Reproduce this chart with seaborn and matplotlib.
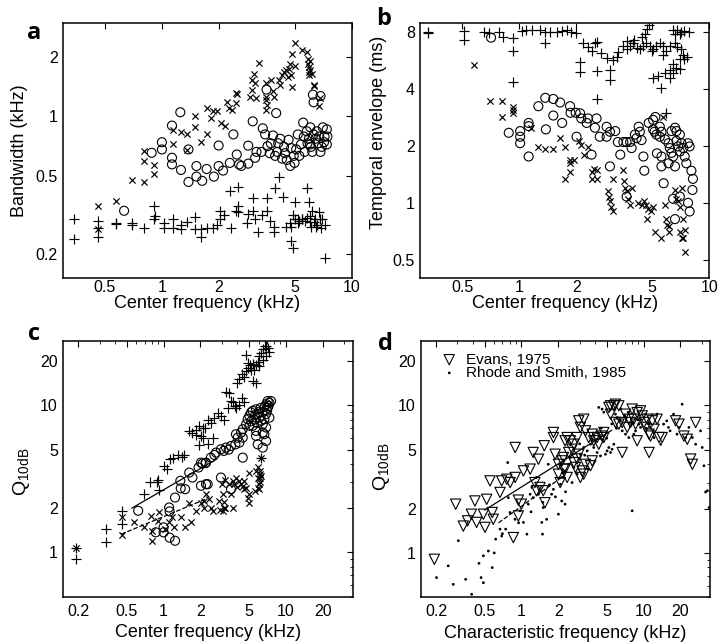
import numpy as np
import seaborn as sns
import matplotlib
matplotlib.use('Agg')
import matplotlib.pyplot as plt
from matplotlib.ticker import FixedLocator, FixedFormatter, LogLocator, NullLocator, NullFormatter

# ---- panel a: bandwidth vs center frequency (kHz, kHz) ----
a_plus = [(0.345, 0.30), (0.345, 0.238), (0.458, 0.295), (0.458, 0.27), (0.458, 0.243), (0.575, 0.287),
          (0.575, 0.282), (0.695, 0.287), (0.695, 0.281), (0.807, 0.272), (0.911, 0.35), (0.911, 0.30),
          (0.92, 0.31), (1.03, 0.287), (1.03, 0.272), (1.14, 0.301), (1.14, 0.272), (1.26, 0.28), (1.26, 0.266),
          (1.35, 0.29), (1.50, 0.307), (1.50, 0.266), (1.60, 0.266), (1.60, 0.243), (1.72, 0.272), (1.87, 0.272),
          (1.95, 0.28), (2.03, 0.33), (2.03, 0.30), (2.13, 0.315), (2.31, 0.272), (2.29, 0.418), (2.45, 0.33),
          (2.53, 0.435), (2.53, 0.35), (2.53, 0.325), (2.80, 0.287), (2.85, 0.32), (3.01, 0.383), (3.01, 0.33),
          (3.1, 0.30), (3.22, 0.258), (3.35, 0.315), (3.57, 0.383), (3.57, 0.33), (3.7, 0.295), (3.90, 0.258),
          (3.90, 0.275), (3.95, 0.433), (4.13, 0.49), (4.36, 0.39), (4.5, 0.275), (4.73, 0.287), (4.8, 0.275),
          (4.8, 0.232), (4.9, 0.215), (4.9, 0.315), (5.0, 0.30), (5.03, 0.365), (5.2, 0.30), (5.2, 0.287),
          (5.3, 0.295), (5.46, 0.30), (5.5, 0.30), (5.7, 0.295), (5.8, 0.305), (5.81, 0.43), (5.95, 0.365),
          (6.0, 0.29), (6.0, 0.31), (6.1, 0.275), (6.2, 0.33), (6.3, 0.29), (6.41, 0.30), (6.5, 0.275),
          (6.6, 0.28), (6.7, 0.325), (6.81, 0.30), (6.9, 0.27), (7.0, 0.30), (7.2, 0.28), (7.24, 0.19)]
a_cross = [(0.458, 0.351), (0.458, 0.266), (0.575, 0.371), (0.695, 0.475), (0.807, 0.593), (0.807, 0.666),
           (0.807, 0.461), (0.911, 0.566), (0.911, 0.508), (1.14, 0.728), (1.14, 0.85), (1.26, 0.83), (1.35, 0.81),
           (1.35, 0.673), (1.5, 1.0), (1.5, 0.88), (1.6, 0.74), (1.72, 0.81), (1.72, 1.11), (1.82, 0.98),
           (1.87, 1.07), (1.95, 1.06), (2.05, 0.93), (2.15, 0.89), (2.2, 1.18), (2.27, 1.11), (2.35, 1.08),
           (2.45, 1.32), (2.45, 1.17), (2.5, 1.30), (2.9, 1.25), (3.0, 1.53), (3.0, 1.36), (3.05, 1.64),
           (3.1, 1.48), (3.15, 1.24), (3.25, 1.86), (3.55, 1.48), (3.55, 1.25), (3.55, 1.21), (3.55, 1.08),
           (3.6, 1.15), (3.75, 1.53), (3.85, 1.35), (3.9, 1.25), (4.15, 1.53), (4.2, 1.45), (4.3, 1.62),
           (4.4, 1.68), (4.5, 1.72), (4.6, 1.58), (4.7, 1.75), (4.75, 1.85), (4.8, 1.62), (4.85, 1.42),
           (4.85, 2.07), (5.0, 1.80), (5.05, 2.36), (5.45, 2.17), (5.8, 2.14), (5.9, 1.95), (5.9, 1.85),
           (5.95, 1.78), (5.95, 1.68), (5.95, 1.62), (6.0, 1.92), (6.05, 1.72), (6.2, 1.65), (6.3, 1.43),
           (6.35, 1.45), (6.7, 1.13), (6.85, 1.24)]
a_circle = [(0.632, 0.331), (0.883, 0.653), (1.0, 0.739), (1.0, 0.679), (1.13, 0.898), (1.13, 0.616),
            (1.13, 0.570), (1.25, 1.05), (1.26, 0.534), (1.38, 0.679), (1.38, 0.464), (1.52, 0.559),
            (1.52, 0.494), (1.63, 0.47), (1.72, 0.54), (1.88, 0.494), (1.99, 0.711), (1.99, 0.559), (2.1, 0.53),
            (2.28, 0.58), (2.38, 0.81), (2.48, 0.64), (2.55, 0.57), (2.62, 0.56), (2.85, 0.71), (2.85, 0.575),
            (3.01, 0.944), (3.1, 0.616), (3.15, 0.66), (3.35, 0.66), (3.4, 0.87), (3.56, 1.37), (3.5, 0.81),
            (3.6, 0.705), (3.7, 0.65), (3.75, 0.73), (3.85, 0.80), (3.95, 0.63), (4.0, 1.04), (4.05, 0.66),
            (4.1, 0.73), (4.2, 0.77), (4.3, 0.61), (4.4, 0.70), (4.45, 0.65), (4.55, 0.60), (4.65, 0.76),
            (4.75, 0.56), (4.8, 0.69), (4.95, 0.63), (5.0, 0.58), (5.1, 0.68), (5.2, 0.81), (5.3, 0.63),
            (5.4, 0.72), (5.55, 0.93), (5.6, 0.79), (5.65, 0.66), (5.8, 0.84), (5.85, 0.73), (5.95, 0.77),
            (6.05, 0.88), (6.05, 0.72), (6.1, 0.70), (6.2, 0.66), (6.25, 1.29), (6.3, 0.81), (6.3, 1.18),
            (6.45, 0.77), (6.55, 0.84), (6.65, 0.73), (6.75, 0.79), (6.85, 1.27), (6.85, 0.66), (6.95, 0.70),
            (7.05, 0.88), (7.15, 0.74), (7.2, 0.79), (7.4, 0.86), (7.4, 0.72), (7.45, 0.79)]

# ---- panel b: temporal envelope (ms) vs center frequency ----
b_plus = [(0.33, 8.0), (0.33, 7.9), (0.51, 8.15), (0.51, 7.3), (0.65, 8.05), (0.69, 7.9), (0.78, 8.0),
          (0.82, 7.6), (0.93, 7.5), (0.93, 6.4), (0.93, 4.35), (1.03, 8.1), (1.09, 8.2), (1.16, 8.25),
          (1.29, 8.2), (1.36, 8.0), (1.36, 7.0), (1.45, 8.0), (1.57, 8.0), (1.68, 8.1), (1.78, 8.2), (1.88, 8.0),
          (2.0, 7.9), (2.09, 5.55), (2.09, 4.92), (2.17, 7.0), (2.3, 6.7), (2.4, 6.4), (2.5, 7.0), (2.55, 7.1),
          (2.55, 5.0), (2.55, 3.55), (2.7, 6.2), (2.88, 5.85), (3.12, 5.7), (3.25, 5.9), (3.3, 6.3), (3.0, 5.05),
          (3.0, 4.45), (3.53, 6.8), (3.67, 6.5), (3.83, 6.8), (3.98, 7.0), (4.14, 6.65), (4.31, 6.5),
          (4.49, 6.8), (4.67, 7.0), (4.86, 6.8), (5.06, 6.5), (5.27, 6.8), (5.49, 7.0), (5.72, 6.8),
          (5.95, 6.35), (6.2, 6.8), (4.4, 7.55), (4.6, 7.8), (4.7, 8.3), (4.8, 8.7), (5.0, 6.4), (5.06, 4.6),
          (5.4, 4.7), (5.72, 6.1), (5.85, 4.9), (6.2, 5.05), (6.45, 5.45), (6.7, 5.2), (7.0, 5.75), (5.6, 4.05),
          (5.9, 3.0), (6.45, 8.2), (6.6, 7.8), (6.8, 8.2), (7.1, 8.0), (6.6, 7.0), (6.8, 6.7), (7.1, 6.5),
          (7.3, 6.1), (7.4, 5.75), (7.6, 5.9), (6.2, 4.6), (6.45, 4.9), (7.0, 5.1), (7.4, 8.1), (7.8, 8.0),
          (7.0, 7.8), (3.7, 7.2), (4.0, 7.3)]
b_circle = [(0.71, 7.5), (0.88, 2.35), (1.01, 2.4), (1.01, 2.24), (1.01, 2.07), (1.12, 2.65), (1.12, 2.55),
            (1.12, 1.76), (1.26, 3.25), (1.37, 3.6), (1.38, 2.45), (1.51, 3.55), (1.51, 2.9), (1.64, 3.4),
            (1.68, 2.65), (1.85, 3.25), (1.86, 3.0), (1.98, 3.0), (2.0, 2.24), (2.09, 2.98), (2.12, 2.8),
            (2.26, 2.65), (2.3, 2.8), (2.4, 1.8), (2.5, 2.5), (2.55, 2.8), (2.65, 2.24), (2.88, 2.53),
            (2.88, 2.24), (3.0, 2.38), (3.0, 1.56), (3.2, 2.4), (3.3, 2.1), (3.4, 1.8), (3.53, 2.1), (3.67, 2.1),
            (3.83, 2.1), (3.67, 1.08), (3.9, 1.95), (4.06, 2.3), (4.14, 2.2), (4.31, 2.38), (4.4, 2.15),
            (4.25, 2.53), (4.5, 1.76), (4.55, 1.48), (4.8, 2.65), (5.06, 2.75), (5.06, 2.45), (5.15, 2.38),
            (5.2, 2.85), (5.27, 2.3), (5.49, 2.24), (5.6, 2.38), (5.49, 2.53), (5.3, 1.83), (5.6, 1.76),
            (5.75, 1.27), (5.85, 2.17), (6.1, 2.07), (6.2, 1.95), (6.33, 1.84), (6.45, 1.76), (6.6, 1.56),
            (6.72, 2.13), (6.85, 1.99), (7.0, 1.87), (7.13, 2.07), (7.3, 1.95), (7.42, 1.76), (7.57, 1.62),
            (7.73, 2.07), (7.88, 1.99), (8.05, 1.48), (8.2, 1.34), (8.15, 1.17), (7.73, 1.0), (7.88, 0.9),
            (7.0, 1.08), (6.6, 0.82), (6.45, 1.05), (5.6, 1.56), (6.1, 1.62), (6.33, 2.4), (6.6, 2.5),
            (6.72, 2.4), (7.0, 2.3)]
b_cross = [(0.58, 5.4), (0.70, 3.45), (0.81, 3.45), (0.81, 2.85), (0.93, 3.2), (0.93, 3.1), (0.93, 3.0),
           (1.15, 2.5), (1.26, 1.98), (1.37, 1.92), (1.5, 1.92), (1.63, 2.2), (1.73, 1.34), (1.75, 1.98),
           (1.85, 1.68), (1.84, 1.62), (1.84, 1.46), (1.93, 1.68), (2.05, 2.12), (2.12, 2.02), (2.2, 1.8),
           (2.3, 1.98), (2.4, 1.46), (2.42, 1.34), (2.48, 1.52), (2.55, 1.5), (2.55, 1.34), (2.93, 1.15),
           (2.95, 1.08), (3.0, 1.02), (3.05, 0.95), (3.1, 0.9), (3.12, 1.34), (3.53, 1.5), (3.56, 1.3),
           (3.6, 1.2), (3.67, 1.16), (3.75, 1.05), (3.83, 0.97), (3.9, 1.2), (4.2, 1.0), (4.4, 0.97),
           (4.55, 1.02), (4.67, 0.98), (4.7, 0.82), (4.75, 0.93), (4.95, 0.9), (5.06, 0.95), (5.15, 0.70),
           (5.72, 2.85), (5.6, 0.65), (5.85, 0.97), (5.9, 0.82), (6.0, 0.76), (6.1, 0.7), (6.15, 0.75),
           (6.6, 1.17), (6.72, 1.05), (7.0, 0.70), (7.15, 0.65), (7.3, 0.65), (7.42, 0.55), (7.42, 0.72),
           (7.3, 0.82), (7.05, 0.95), (6.85, 1.02), (7.15, 1.2)]

# ---- panel c: Q10dB vs center frequency ----
c_plus = [(0.193, 0.90), (0.193, 1.07), (0.34, 1.45), (0.34, 1.17), (0.454, 1.9), (0.454, 1.57), (0.69, 2.5),
          (0.78, 3.0), (0.89, 3.0), (0.92, 2.65), (0.9, 3.1), (1.0, 3.85), (1.06, 3.7), (1.13, 4.3), (1.2, 4.4),
          (1.3, 4.6), (1.42, 4.45), (1.48, 4.6), (1.62, 6.7), (1.72, 6.5), (1.84, 6.8), (1.84, 6.3),
          (1.95, 7.2), (2.08, 7.0), (2.18, 7.0), (1.95, 5.4), (2.08, 6.0), (2.02, 6.2), (2.29, 5.43),
          (2.51, 6.03), (2.3, 8.0), (2.44, 7.6), (2.6, 8.2), (2.76, 8.9), (2.95, 8.4), (3.14, 8.0), (3.35, 9.6),
          (3.24, 12.4), (3.45, 12.1), (3.55, 10.7), (3.66, 10.5), (3.8, 9.85), (3.9, 9.6), (4.1, 10.1),
          (4.4, 11.3), (3.95, 14.2), (4.16, 15.0), (4.35, 16.3), (4.55, 15.5), (4.72, 17.0), (4.9, 18.0),
          (4.72, 22.0), (4.9, 19.5), (5.05, 18.8), (5.2, 17.5), (5.35, 19.2), (5.5, 17.5), (5.7, 18.8),
          (5.9, 19.8), (6.06, 18.5), (5.35, 14.6), (5.7, 14.2), (6.06, 21.5), (6.25, 22.7), (6.46, 24.0),
          (6.67, 25.2), (6.88, 25.5), (7.1, 24.5), (7.32, 23.2), (6.88, 21.5), (6.46, 20.4), (4.55, 10.6),
          (6.25, 4.41)]
c_circle = [(0.62, 1.92), (0.863, 1.37), (1.0, 1.48), (1.0, 1.37), (1.12, 1.26), (1.24, 1.2), (1.11, 2.02),
            (1.12, 1.9), (1.24, 2.36), (1.37, 3.07), (1.5, 2.69), (1.38, 2.73), (1.62, 3.49), (1.72, 3.23),
            (1.93, 3.78), (2.08, 4.02), (2.29, 2.91), (2.2, 4.05), (2.02, 4.08), (2.22, 4.08), (2.43, 4.41),
            (2.68, 4.77), (2.94, 5.03), (3.23, 5.16), (3.55, 5.29), (3.86, 5.43), (4.16, 5.58), (4.43, 6.03),
            (3.9, 6.36), (4.03, 6.03), (4.29, 6.53), (4.43, 6.88), (4.72, 7.44), (4.86, 8.05), (5.02, 8.5),
            (5.18, 8.95), (5.34, 9.18), (5.69, 9.4), (5.87, 8.73), (6.06, 8.25), (6.25, 7.85), (6.45, 7.44),
            (6.65, 8.05), (6.87, 8.73), (7.08, 9.64), (7.31, 10.4), (7.54, 10.7), (7.08, 10.7), (7.31, 8.25),
            (6.87, 7.07), (6.45, 6.53), (5.69, 6.7), (5.34, 7.26), (5.02, 7.26), (6.65, 6.36), (6.87, 5.72),
            (6.45, 5.16), (4.43, 4.41), (2.94, 3.23), (2.22, 2.91), (2.02, 2.84), (3.55, 2.69), (5.69, 6.2),
            (5.87, 5.43), (5.5, 8.0), (6.0, 9.0), (6.2, 9.6), (5.8, 7.6), (6.4, 9.0), (6.7, 9.8), (7.0, 9.2),
            (5.2, 7.8), (5.6, 8.6), (6.9, 10.2), (7.2, 9.9), (2.6, 4.6), (3.1, 4.9), (3.4, 5.0)]
c_cross = [(0.193, 1.07), (0.454, 1.75), (0.454, 1.32), (0.573, 1.6), (0.692, 1.48), (0.786, 1.77),
           (0.81, 1.39), (0.81, 1.2), (0.92, 1.87), (0.9, 1.64), (1.03, 1.44), (1.11, 1.6), (1.18, 1.73),
           (1.22, 1.48), (1.38, 1.73), (1.5, 1.48), (1.62, 2.18), (1.68, 1.6), (1.84, 1.92), (2.02, 2.18),
           (2.15, 2.0), (2.2, 2.49), (2.15, 2.24), (2.36, 2.31), (2.43, 2.02), (2.51, 1.92), (2.85, 2.24),
           (3.03, 2.49), (3.13, 2.02), (3.03, 1.92), (3.55, 2.49), (3.66, 3.07), (3.66, 2.02), (3.78, 2.91),
           (3.9, 3.23), (4.16, 3.07), (4.29, 2.91), (4.43, 2.84), (4.57, 3.07), (4.72, 2.76), (4.86, 2.36),
           (5.02, 2.49), (5.02, 2.18), (4.95, 3.49), (5.69, 3.58), (5.87, 3.23), (5.87, 2.76), (6.06, 2.91),
           (6.25, 4.41), (5.87, 3.78), (6.1, 3.0), (6.1, 3.2), (6.1, 3.4), (6.15, 3.6), (6.2, 3.3), (6.0, 2.7),
           (5.6, 2.6), (3.0, 2.9), (3.2, 3.1), (3.4, 2.9), (4.0, 2.8), (4.5, 2.7), (3.1, 2.2), (3.2, 2.0),
           (2.9, 1.95)]
c_fit_solid_f = [0.55, 2.7]
c_fit_solid_q = [2.0, 4.3]
c_fit_dash_f = [0.45, 2.2]
c_fit_dash_q = [1.33, 2.3]

# ---- panel d: Q10dB vs characteristic frequency (physiology) ----
d_evans = [(0.194, 0.905), (0.29, 2.14), (0.335, 1.52), (0.363, 1.65), (0.39, 1.83), (0.417, 2.25),
           (0.43, 1.61), (0.489, 1.83), (0.504, 1.49), (0.52, 2.31), (0.578, 1.88), (0.589, 1.69),
           (0.554, 3.08), (0.669, 2.57), (0.69, 3.08), (0.76, 3.16), (0.81, 3.0), (0.86, 1.27), (0.89, 5.19),
           (0.89, 3.25), (0.945, 2.28), (0.945, 1.78), (1.0, 2.14), (1.04, 3.6), (1.18, 3.7), (1.25, 4.8),
           (1.29, 3.0), (1.33, 2.64), (1.38, 4.32), (1.42, 2.78), (1.51, 2.64), (1.54, 5.33), (1.56, 2.19),
           (1.83, 6.56), (1.83, 6.06), (1.89, 4.67), (2.01, 3.99), (2.01, 3.42), (2.08, 3.0), (2.21, 4.44),
           (2.28, 5.76), (2.28, 3.7), (2.15, 4.21), (2.22, 3.7), (2.37, 3.25), (2.44, 4.8), (2.6, 5.05),
           (2.37, 6.06), (2.52, 5.76), (2.69, 5.46), (2.86, 6.06), (2.95, 7.87), (3.24, 8.07), (3.04, 7.1),
           (3.35, 6.73), (3.56, 6.06), (3.8, 6.39), (3.91, 5.76), (4.17, 6.06), (4.58, 6.2), (4.3, 5.46),
           (3.35, 3.99), (3.14, 3.6), (3.24, 3.42), (3.68, 3.9), (3.8, 4.21), (2.95, 4.67), (2.86, 4.33),
           (2.69, 4.1), (2.77, 3.8), (3.04, 3.25), (4.73, 6.56), (5.2, 9.7), (5.37, 8.73), (5.71, 9.95),
           (6.28, 9.95), (5.89, 7.67), (6.28, 7.47), (6.69, 7.67), (6.69, 4.8), (7.12, 8.73), (7.35, 7.1),
           (7.58, 8.07), (7.82, 7.67), (8.07, 9.45), (8.33, 8.07), (8.6, 7.47), (8.87, 5.76), (8.87, 8.95),
           (9.45, 9.2), (9.75, 8.5), (10.1, 7.67), (10.4, 7.1), (10.7, 8.07), (11.1, 6.39), (11.4, 6.2),
           (11.8, 7.87), (12.2, 6.9), (12.9, 8.07), (13.4, 6.06), (14.2, 6.06), (18.3, 7.87), (19.5, 7.47),
           (21.4, 6.2), (22.8, 5.9), (24.3, 4.33), (25.1, 3.99), (26.7, 7.67), (11.1, 4.8), (4.73, 6.06),
           (5.37, 9.95), (5.89, 10.2)]
d_rhode = [(0.202, 0.68), (0.252, 0.817), (0.277, 0.612), (0.305, 1.21), (0.35, 0.662), (0.392, 0.524),
           (0.468, 0.68), (0.489, 0.955), (0.489, 0.628), (0.537, 1.03), (0.578, 0.795), (0.616, 1.24),
           (0.669, 1.45), (0.69, 1.3), (0.744, 1.45), (0.773, 4.1), (0.782, 2.37), (0.807, 1.88), (0.887, 1.69),
           (0.976, 1.93), (1.04, 1.61), (1.11, 1.34), (1.14, 2.14), (1.18, 2.5), (1.22, 2.78), (1.25, 2.37),
           (1.33, 3.25), (1.38, 2.5), (1.47, 1.61), (1.49, 1.34), (1.51, 2.03), (1.61, 1.69), (1.66, 3.99),
           (1.77, 2.5), (1.83, 2.7), (2.01, 1.83), (2.14, 2.25), (2.28, 2.14), (2.21, 3.25), (2.09, 2.92),
           (2.15, 3.25), (2.29, 3.6), (2.44, 3.99), (2.52, 4.44), (2.69, 3.79), (2.86, 3.42), (3.04, 4.67),
           (3.24, 5.19), (3.46, 4.92), (3.68, 5.46), (3.91, 5.19), (4.17, 4.8), (4.3, 9.7), (4.44, 4.55),
           (4.58, 9.45), (4.73, 9.0), (4.88, 4.67), (5.03, 4.92), (5.2, 5.19), (5.37, 4.8), (5.53, 5.05),
           (5.71, 5.46), (5.89, 8.73), (6.08, 8.28), (6.48, 7.87), (6.69, 6.73), (7.12, 6.39), (7.58, 6.06),
           (8.07, 1.93), (8.33, 6.39), (8.6, 6.73), (9.15, 7.47), (9.45, 7.1), (10.1, 8.28), (10.4, 8.73),
           (11.4, 7.1), (12.2, 6.06), (12.9, 8.73), (13.8, 5.46), (14.6, 7.47), (15.5, 7.87), (16.0, 7.1),
           (16.5, 6.73), (17.6, 8.73), (18.8, 6.39), (19.5, 7.1), (20.7, 10.2), (22.1, 6.06), (23.5, 7.1),
           (25.1, 6.06), (26.7, 5.46), (29.3, 6.73), (30.2, 5.19), (31.2, 3.9), (33.3, 2.64), (34.4, 2.03),
           (32.2, 2.59), (3.0, 5.5), (3.3, 4.6), (3.8, 5.8), (4.2, 6.5), (4.5, 7.0), (5.5, 7.5), (6.0, 7.0),
           (7.0, 8.5), (7.5, 9.0), (8.0, 7.5), (9.0, 8.0), (10.5, 7.0), (11.0, 7.5), (6.5, 9.5), (5.0, 6.0),
           (4.0, 4.2), (3.5, 3.7), (2.6, 3.0), (2.3, 2.6), (1.9, 2.4), (1.7, 2.9), (1.5, 2.2), (1.2, 1.9),
           (0.95, 1.6), (0.7, 1.35), (0.6, 1.0), (0.45, 0.85)]
d_fit_solid_f = [0.5, 5.5]
d_fit_solid_q = [1.95, 6.8]
d_fit_dash_f = [0.65, 2.3]
d_fit_dash_q = [1.6, 3.4]

ab_xticks = [0.5, 1, 2, 5, 10]
cd_xticks = [0.2, 0.5, 1, 2, 5, 10, 20]
a_yticks = [0.2, 0.5, 1, 2]
b_yticks = [0.5, 1, 2, 4, 8]
cd_yticks = [1, 2, 5, 10, 20]

sns.set_style('white')
plt.rcParams['font.family'] = ['Liberation Sans', 'DejaVu Sans']
plt.rcParams['mathtext.default'] = 'regular'
plt.rcParams['axes.linewidth'] = 1.1
plt.rcParams['axes.edgecolor'] = 'black'
plt.rcParams['text.color'] = 'black'
plt.rcParams['axes.labelcolor'] = 'black'
plt.rcParams['xtick.color'] = 'black'
plt.rcParams['ytick.color'] = 'black'


def split(pairs):
    arr = np.array(pairs, dtype=float)
    return arr[:, 0], arr[:, 1]


def draw(ax, pairs, marker, size, label=None, open_marker=False):
    x, y = split(pairs)
    if open_marker:
        sns.scatterplot(x=x, y=y, ax=ax, marker=marker, s=size, color='black',
                        facecolor='none', edgecolor='black', linewidth=0.8, label=label)
    elif marker in ('+', 'x'):
        sns.scatterplot(x=x, y=y, ax=ax, marker=marker, s=size, color='black', linewidth=0.85)
    else:
        sns.scatterplot(x=x, y=y, ax=ax, marker=marker, s=size, color='black',
                        edgecolor='none', label=label)


def style(ax, xlim, ylim, xticks, yticks, minor=False, pad=3):
    ax.set_xscale('log')
    ax.set_yscale('log')
    ax.set_xlim(*xlim)
    ax.set_ylim(*ylim)
    ax.xaxis.set_major_locator(FixedLocator(xticks))
    ax.xaxis.set_major_formatter(FixedFormatter([f'{t:g}' for t in xticks]))
    ax.yaxis.set_major_locator(FixedLocator(yticks))
    ax.yaxis.set_major_formatter(FixedFormatter([f'{t:g}' for t in yticks]))
    if minor:
        ax.xaxis.set_minor_locator(LogLocator(base=10, subs=np.arange(2, 10)))
        ax.yaxis.set_minor_locator(LogLocator(base=10, subs=np.arange(2, 10)))
    else:
        ax.xaxis.set_minor_locator(NullLocator())
        ax.yaxis.set_minor_locator(NullLocator())
    ax.xaxis.set_minor_formatter(NullFormatter())
    ax.yaxis.set_minor_formatter(NullFormatter())
    ax.tick_params(which='major', direction='in', top=True, right=True, length=4, width=0.8,
                   labelsize=11.5, colors='black')
    ax.tick_params(axis='x', which='major', pad=pad)
    ax.tick_params(which='minor', direction='in', top=True, right=True, length=2, width=0.6)
    for sp in ax.spines.values():
        sp.set_visible(True)
        sp.set_color('black')


fig = plt.figure(figsize=(7.19, 6.43), dpi=100)
ax_a = fig.add_axes([0.0872, 0.5672, 0.4019, 0.3975])
ax_b = fig.add_axes([0.5841, 0.5677, 0.4024, 0.3970])
ax_c = fig.add_axes([0.0872, 0.0720, 0.4033, 0.3981])
ax_d = fig.add_axes([0.5851, 0.0711, 0.4024, 0.3990])

# a
draw(ax_a, a_plus, '+', 42)
draw(ax_a, a_cross, 'x', 20)
draw(ax_a, a_circle, 'o', 42, open_marker=True)
style(ax_a, (0.3, 10), (0.15, 3), ab_xticks, a_yticks, pad=1.5)
ax_a.set_xlabel('Center frequency (kHz)', fontsize=13, labelpad=0)
ax_a.set_ylabel('Bandwidth (kHz)', fontsize=13)

# b
draw(ax_b, b_plus, '+', 42)
draw(ax_b, b_cross, 'x', 20)
draw(ax_b, b_circle, 'o', 42, open_marker=True)
style(ax_b, (0.3, 10), (0.4, 9), ab_xticks, b_yticks, pad=1.5)
ax_b.set_xlabel('Center frequency (kHz)', fontsize=13, labelpad=0)
ax_b.set_ylabel('Temporal envelope (ms)', fontsize=13)

# c
draw(ax_c, c_plus, '+', 42)
draw(ax_c, c_cross, 'x', 20)
draw(ax_c, c_circle, 'o', 42, open_marker=True)
sns.lineplot(x=c_fit_solid_f, y=c_fit_solid_q, ax=ax_c, color='black', linewidth=0.9)
sns.lineplot(x=c_fit_dash_f, y=c_fit_dash_q, ax=ax_c, color='black', linewidth=0.9, linestyle='--')
style(ax_c, (0.15, 35), (0.5, 27.5), cd_xticks, cd_yticks, minor=True, pad=5)
ax_c.set_xlabel('Center frequency (kHz)', fontsize=13)
ax_c.set_ylabel('Q$_{10dB}$', fontsize=14)

# d
draw(ax_d, d_evans, 'v', 55, label='Evans, 1975', open_marker=True)
draw(ax_d, d_rhode, 'o', 4, label='Rhode and Smith, 1985')
sns.lineplot(x=d_fit_solid_f, y=d_fit_solid_q, ax=ax_d, color='black', linewidth=0.9)
sns.lineplot(x=d_fit_dash_f, y=d_fit_dash_q, ax=ax_d, color='black', linewidth=0.9, linestyle='--')
style(ax_d, (0.15, 35), (0.5, 27.5), cd_xticks, cd_yticks, minor=True, pad=5)
ax_d.set_xlabel('Characteristic frequency (kHz)', fontsize=13)
ax_d.set_ylabel('Q$_{10dB}$', fontsize=14)
ax_d.legend(loc='upper left', bbox_to_anchor=(0.03, 0.995), frameon=False, fontsize=11,
            handletextpad=0.5, labelspacing=-0.05, borderpad=0.2, handlelength=1.2, scatterpoints=1)

# label positions (matlab-like placement)
ax_a.yaxis.set_label_coords(-0.12, 0.5)
ax_b.yaxis.set_label_coords(-0.114, 0.572)
ax_c.yaxis.set_label_coords(-0.106, 0.49)
ax_d.yaxis.set_label_coords(-0.099, 0.51)

# panel letters
for txt, x, y in [('a', 27, 39), ('b', 376, 25), ('c', 28, 340), ('d', 378, 350)]:
    fig.text(x / 719, 1 - y / 643, txt, fontsize=17, fontweight='bold', family='Open Sans',
             va='baseline', ha='left')

fig.savefig('out.png', dpi=100)
